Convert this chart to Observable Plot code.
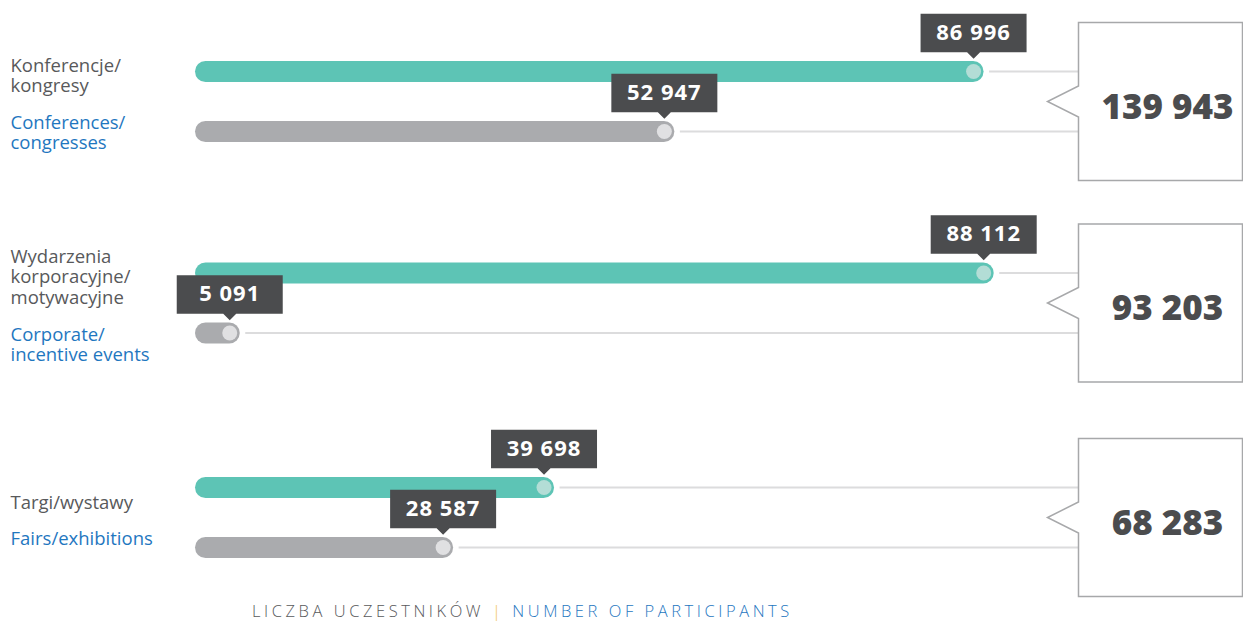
<!DOCTYPE html>
<html><head><meta charset="utf-8">
<script src="https://cdn.jsdelivr.net/npm/d3@7"></script>
<script src="https://cdn.jsdelivr.net/npm/@observablehq/plot@0.6"></script>
<style>
body{margin:0;background:#fff;font-family:"Open Sans",sans-serif;}
#chart{position:relative;width:1243px;height:623px;overflow:hidden;}
#chart svg{display:block;}
#caption{position:absolute;left:252px;top:601px;font-size:16.5px;font-weight:300;letter-spacing:3.55px;line-height:20px;white-space:nowrap;}
</style></head><body>
<div id="chart"><div id="caption"><span style="color:#58595b">LICZBA UCZESTNIKÓW</span> <span style="color:#f2c14e">|</span> <span style="color:#1f77bf">NUMBER OF PARTICIPANTS</span></div></div>
<script>
// ---- data ----
const groupsPL = ["Konferencje/\nkongresy", "Wydarzenia\nkorporacyjne/\nmotywacyjne", "Targi/wystawy"];
const groupsEN = ["Conferences/\ncongresses", "Corporate/\nincentive events", "Fairs/exhibitions"];
const valuesTeal = [86996, 88112, 39698];
const valuesGray = [52947, 5091, 28587];
const totals = [139943, 93203, 68283];

// ---- derived tables ----
const rowsTeal = valuesTeal.map((v, i) => ({gi: i, value: v}));
const rowsGray = valuesGray.map((v, i) => ({gi: i, value: v}));
const totalRows = totals.map((t, i) => ({gi: i, total: t}));

const fmt = d3.formatLocale({thousands: " ", grouping: [3], decimal: ",", currency: ["", ""]}).format(",d");

const XMAX = 98550;
const series = [
  {rows: rowsTeal, bar: "#5dc4b5", dot: "#b3ddd6", off: -30},
  {rows: rowsGray, bar: "#aaabae", dot: "#e0e0e2", off: 30}
];

// callout above a value dot
const valueCallout = {
  draw(ctx) {
    ctx.moveTo(-53, -57.7);
    ctx.lineTo(53, -57.7);
    ctx.lineTo(53, -19.3);
    ctx.lineTo(6.5, -19.3);
    ctx.lineTo(0, -12.7);
    ctx.lineTo(-6.5, -19.3);
    ctx.lineTo(-53, -19.3);
    ctx.closePath();
  }
};
// total box with left notch
const totalBox = {
  draw(ctx) {
    ctx.moveTo(0, -79);
    ctx.lineTo(164, -79);
    ctx.lineTo(164, 79);
    ctx.lineTo(0, 79);
    ctx.lineTo(0, 15.5);
    ctx.lineTo(-31, 0);
    ctx.lineTo(0, -15.5);
    ctx.closePath();
  }
};

const marks = [];
for (const s of series) {
  marks.push(Plot.ruleY(s.rows, {y: "gi", x1: 0, x2: "value", stroke: s.bar, strokeWidth: 21, strokeLinecap: "round", insetLeft: 22.5, dy: s.off}));
}
for (const s of series) {
  marks.push(Plot.ruleY(s.rows, {y: "gi", x1: "value", x2: XMAX, stroke: "#dcdcdd", strokeWidth: 2, insetLeft: 16, dy: s.off}));
}
for (const s of series) {
  marks.push(Plot.dot(s.rows, {x: "value", y: "gi", r: 7.5, fill: s.dot, stroke: "none", dy: s.off}));
}
for (const s of series) {
  marks.push(Plot.dot(s.rows, {x: "value", y: "gi", symbol: valueCallout, r: 10, fill: "#4b4c4e", stroke: "none", dy: s.off}));
}
for (const s of series) {
  marks.push(Plot.text(s.rows, {x: "value", y: "gi", text: d => fmt(d.value), fill: "#ffffff", fontSize: 22, fontWeight: 700, textAnchor: "middle", dy: s.off - 39}));
}
// totals
marks.push(Plot.dot(totalRows, {y: "gi", frameAnchor: "right", symbol: totalBox, r: 10, fill: "#ffffff", stroke: "#a7a8aa", strokeWidth: 1.5}));
marks.push(Plot.text(totalRows, {y: "gi", frameAnchor: "right", dx: 89, dy: 6, textAnchor: "middle", text: d => fmt(d.total), fontSize: 35, fontWeight: 800, fill: "#4b4c4e"}));

// left labels
const LH = 21, FS = 18.5;
groupsPL.forEach((pl, i) => {
  const en = groupsEN[i];
  const nP = pl.split("\n").length, nE = en.split("\n").length;
  const H = (nP - 1) * LH + 36 + (nE - 1) * LH;
  const first = 9 - H / 2;
  const topShift = 0.71 * LH;
  marks.push(Plot.text([i], {y: d => d, frameAnchor: "left", dx: -173, text: () => pl, textAnchor: "start", lineAnchor: "top", fontSize: FS, lineHeight: LH / FS, fill: "#58595b", dy: first - topShift}));
  marks.push(Plot.text([i], {y: d => d, frameAnchor: "left", dx: -173, text: () => en, textAnchor: "start", lineAnchor: "top", fontSize: FS, lineHeight: LH / FS, fill: "#1f77bf", dy: first + (nP - 1) * LH + 36 - topShift}));
});

const svg = Plot.plot({
  width: 1243,
  height: 600,
  marginLeft: 183,
  marginRight: 165,
  marginTop: 0,
  marginBottom: 0,
  style: {fontFamily: "Open Sans, sans-serif", background: "#ffffff", overflow: "visible"},
  x: {domain: [0, XMAX], range: [183, 1078], axis: null},
  y: {type: "linear", domain: [0, 1, 2], range: [101, 302.5, 517], axis: null},
  marks
});
const textGroups = svg.querySelectorAll('g[aria-label="text"]');
[0, 1].forEach(k => { if (textGroups[k]) textGroups[k].setAttribute("letter-spacing", "1"); });
document.getElementById("chart").prepend(svg);
</script>
</body></html>
